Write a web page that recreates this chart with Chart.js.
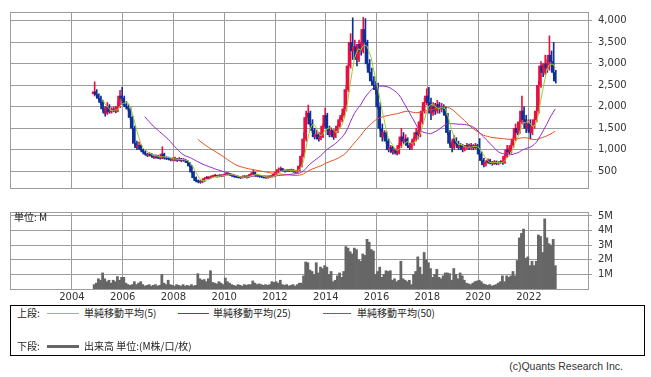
<!DOCTYPE html>
<html>
<head>
<meta charset="utf-8">
<script src="https://cdn.jsdelivr.net/npm/chart.js@4.4.0/dist/chart.umd.min.js"></script>
<style>
  body { margin: 0; background: #fff; width: 651px; height: 377px; position: relative; overflow: hidden; }
  canvas { position: absolute; left: 0; }
  #chartPrice { top: 0; }
  #chartVol { top: 200px; }
  .unit { position: absolute; left: 14px; top: 209px; font: 10px "Noto Sans CJK JP", sans-serif; color: #222; }
  .legend { position: absolute; left: 10px; top: 305px; width: 635px; height: 51px; border: 1px solid #000; box-sizing: border-box; font: 10px "Noto Sans CJK JP", sans-serif; color: #222; }
  .legend span { position: absolute; white-space: nowrap; line-height: 12px; }
  .legend .ln { position: absolute; height: 0; }
  .copy { position: absolute; right: 28px; top: 360px; font: 10.5px "Liberation Sans", sans-serif; color: #333; }
</style>
</head>
<body>
<canvas id="chartPrice" width="651" height="200"></canvas>
<canvas id="chartVol" width="651" height="105"></canvas>
<div class="unit">単位: M</div>
<div class="legend">
  <span style="left:6px;top:1px">上段:</span>
  <div class="ln" style="left:36px;top:7px;width:32px;border-top:1px solid #99cc33"></div>
  <span style="left:73px;top:1px">単純移動平均(5)</span>
  <div class="ln" style="left:167px;top:7px;width:31px;border-top:1px solid #7722cc"></div>
  <span style="left:202px;top:1px">単純移動平均(25)</span>
  <div class="ln" style="left:312px;top:7px;width:28px;border-top:1px solid #d04010"></div>
  <span style="left:346px;top:1px">単純移動平均(50)</span>
  <span style="left:6px;top:34px">下段:</span>
  <div class="ln" style="left:36px;top:39px;width:32px;border-top:3px solid #666"></div>
  <span style="left:73px;top:34px">出来高 単位:(M株/口/枚)</span>
</div>
<div class="copy">(c)Quants Research Inc.</div>
<script>
// monthly candles, Nov 2004 .. Jan 2023
const startYear = 2004;
const startMonth = 11;

const open = [
  2300, 2350,
  2280, 2200, 2100, 1950, 1850, 2000, 1880, 1900, 1950, 1900, 2000, 2250,
  2200, 2050, 2000, 1950, 1750, 1500, 1150, 1050, 1100, 1000, 950, 900,
  870, 900, 860, 820, 850, 820, 800, 900, 810, 800, 790, 770,
  780, 790, 760, 790, 750, 770, 740, 700, 620, 480, 350, 280,
  260, 250, 270, 330, 350, 340, 370, 380, 400, 380, 400, 390,
  410, 430, 440, 420, 400, 380, 370, 360, 350, 370, 380, 360,
  400, 430, 470, 420, 390, 380, 370, 360, 350, 360, 370, 380,
  430, 480, 540, 560, 520, 500, 520, 510, 530, 500, 480, 520,
  620, 850, 1250, 1750, 1850, 1600, 1450, 1300, 1350, 1250, 1300, 1550,
  1800, 1500, 1350, 1450, 1300, 1450, 1550, 1700, 1800, 1950, 2400, 2950,
  3500, 3300, 3400, 3100, 3450, 3300, 3800, 3500, 3000, 2800, 2600, 2500,
  2400, 2000, 1500, 1300, 1400, 1200, 1000, 1050, 950, 1000, 920, 1100,
  1300, 1200, 1250, 1100, 1050, 1150, 1250, 1400, 1350, 1650, 1900, 2100,
  2250, 2100, 1850, 2000, 1900, 2050, 1950, 2000, 1950, 1800, 1400, 1150,
  1050, 1250, 1150, 1050, 1100, 1000, 1050, 1100, 1050, 1100, 1050, 1100,
  1050, 900, 750, 650, 700, 750, 700, 680, 720, 680, 700, 720,
  700, 850, 1000, 950, 1100, 1250, 1500, 1400, 1650, 1900, 1700, 1500,
  1600, 1400, 1550, 1700, 1900, 2500, 2950, 2800, 3000, 2900, 3200, 3050,
  2800
];
const high = [
  2580, 2400,
  2300, 2250, 2150, 2000, 2100, 2050, 1980, 2000, 2000, 2100, 2380, 2450,
  2250, 2120, 2050, 1980, 1780, 1550, 1200, 1180, 1120, 1020, 980, 920,
  930, 910, 880, 880, 870, 840, 1070, 920, 840, 830, 810, 810,
  830, 800, 820, 800, 800, 780, 750, 710, 630, 500, 370, 300,
  280, 290, 350, 380, 370, 390, 410, 430, 410, 420, 420, 430,
  460, 470, 450, 430, 410, 390, 380, 370, 390, 400, 390, 420,
  450, 530, 480, 430, 400, 390, 380, 370, 380, 390, 400, 450,
  500, 580, 600, 570, 530, 540, 540, 550, 540, 510, 540, 650,
  900, 1400, 1900, 2040, 1900, 1700, 1500, 1450, 1400, 1380, 1600, 1970,
  1850, 1550, 1500, 1480, 1500, 1600, 1750, 1850, 2000, 2500, 3000, 3700,
  4070, 3550, 3450, 3550, 3500, 4080, 4050, 3550, 3100, 2900, 2700, 2600,
  2550, 2100, 1600, 1450, 1420, 1250, 1100, 1080, 1020, 1010, 1150, 1500,
  1400, 1350, 1280, 1150, 1200, 1300, 1500, 1450, 1700, 2000, 2200, 2420,
  2450, 2200, 2100, 2080, 2150, 2100, 2080, 2050, 2000, 1850, 1450, 1200,
  1330, 1280, 1200, 1150, 1120, 1100, 1150, 1130, 1150, 1120, 1150, 1130,
  1260, 950, 800, 720, 790, 780, 730, 750, 740, 720, 750, 740,
  900, 1100, 1050, 1150, 1300, 1600, 1550, 1700, 2250, 2000, 1800, 1700,
  1700, 1600, 1750, 2000, 2600, 3050, 3000, 3200, 3100, 3650, 3300, 3500,
  2850
];
const low = [
  2250, 2200,
  2150, 2050, 1900, 1780, 1820, 1850, 1850, 1880, 1860, 1880, 1980, 2150,
  2000, 1950, 1900, 1700, 1450, 1100, 1000, 1030, 980, 920, 880, 840,
  850, 840, 800, 800, 800, 780, 790, 780, 770, 760, 740, 740,
  740, 730, 740, 720, 730, 700, 680, 600, 460, 320, 250, 230,
  220, 230, 260, 320, 320, 330, 350, 370, 360, 370, 370, 380,
  400, 410, 400, 380, 360, 350, 340, 330, 340, 350, 340, 350,
  390, 420, 380, 370, 360, 350, 340, 330, 330, 350, 360, 370,
  420, 470, 520, 500, 480, 490, 490, 500, 480, 460, 470, 510,
  600, 820, 1200, 1600, 1550, 1400, 1250, 1250, 1200, 1230, 1280, 1520,
  1450, 1300, 1300, 1240, 1280, 1400, 1520, 1650, 1750, 1900, 2350, 2900,
  3100, 3150, 2950, 3050, 3200, 3250, 3400, 2900, 2750, 2550, 2400, 2300,
  1950, 1450, 1200, 1250, 1150, 950, 930, 900, 900, 880, 900, 1050,
  1150, 1150, 1050, 1000, 1000, 1100, 1200, 1250, 1300, 1600, 1850, 2050,
  2000, 1700, 1800, 1820, 1850, 1850, 1880, 1850, 1750, 1350, 1100, 950,
  1000, 1100, 1000, 1000, 950, 970, 1000, 1000, 1000, 1000, 1020, 1000,
  850, 700, 600, 620, 680, 670, 640, 660, 650, 650, 680, 660,
  680, 820, 900, 920, 1050, 1220, 1350, 1380, 1600, 1650, 1400, 1450,
  1250, 1350, 1500, 1650, 1850, 2450, 2700, 2750, 2800, 2850, 2950, 2750,
  2550
];
const close = [
  2350, 2280,
  2200, 2100, 1950, 1850, 2000, 1880, 1900, 1950, 1900, 2000, 2250, 2200,
  2050, 2000, 1950, 1750, 1500, 1150, 1050, 1100, 1000, 950, 900, 870,
  900, 860, 820, 850, 820, 800, 900, 810, 800, 790, 770, 780,
  790, 760, 790, 750, 770, 740, 700, 620, 480, 350, 280, 260,
  250, 270, 330, 350, 340, 370, 380, 400, 380, 400, 390, 410,
  430, 440, 420, 400, 380, 370, 360, 350, 370, 380, 360, 400,
  430, 470, 420, 390, 380, 370, 360, 350, 360, 370, 380, 430,
  480, 540, 560, 520, 500, 520, 510, 530, 500, 480, 520, 620,
  850, 1250, 1750, 1850, 1600, 1450, 1300, 1350, 1250, 1300, 1550, 1800,
  1500, 1350, 1450, 1300, 1450, 1550, 1700, 1800, 1950, 2400, 2950, 3500,
  3300, 3400, 3100, 3450, 3300, 3800, 3500, 3000, 2800, 2600, 2500, 2400,
  2000, 1500, 1300, 1400, 1200, 1000, 1050, 950, 1000, 920, 1100, 1300,
  1200, 1250, 1100, 1050, 1150, 1250, 1400, 1350, 1650, 1900, 2100, 2250,
  2100, 1850, 2000, 1900, 2050, 1950, 2000, 1950, 1800, 1400, 1150, 1050,
  1250, 1150, 1050, 1100, 1000, 1050, 1100, 1050, 1100, 1050, 1100, 1050,
  900, 750, 650, 700, 750, 700, 680, 720, 680, 700, 720, 700,
  850, 1000, 950, 1100, 1250, 1500, 1400, 1650, 1900, 1700, 1500, 1600,
  1400, 1550, 1700, 1900, 2500, 2950, 2800, 3000, 2900, 3200, 3050, 2800,
  2600
];
// volume in millions
const volume = [
  0.3, 0.4,
  0.7, 0.6, 1.1, 0.7, 0.5, 0.6, 0.4, 0.6, 0.5, 0.85, 0.6, 0.8,
  0.8, 0.4, 0.3, 0.25, 0.3, 0.5, 0.3, 0.4, 0.5, 0.3, 0.2, 0.25,
  0.3, 0.2, 0.25, 0.3, 0.2, 0.25, 1.0, 0.4, 0.3, 0.6, 0.3, 0.25,
  0.2, 0.3, 0.25, 0.2, 0.3, 0.2, 0.25, 0.2, 0.3, 0.2, 0.25, 1.05,
  0.7, 0.6, 0.65, 0.5, 0.7, 1.25, 0.45, 0.4, 0.35, 0.5, 0.4, 0.3,
  0.75, 0.5, 0.4, 0.3, 0.25, 0.2, 0.3, 0.25, 0.2, 0.3, 0.25, 0.3,
  0.3, 0.55, 0.4, 0.3, 0.35, 0.3, 0.25, 0.3, 0.25, 0.3, 0.5, 0.45,
  0.5, 0.4, 0.6, 0.3, 0.25, 0.3, 0.2, 0.25, 0.3, 0.2, 0.3, 0.4,
  0.4, 0.9, 1.85, 1.8, 1.3, 1.2, 1.0, 1.8, 1.1, 1.5, 1.4, 1.6,
  1.5, 1.0, 1.2, 0.5, 0.6, 0.9, 1.1, 0.8, 1.2, 2.9, 2.8, 2.55,
  2.4, 2.8, 2.7, 2.0, 1.9, 2.4, 2.3, 3.4, 3.2, 2.7, 2.6, 1.0,
  1.2, 1.5, 0.8, 1.0, 1.25, 1.2, 1.25, 0.6, 0.7, 0.5, 0.6, 1.9,
  0.7, 0.6, 0.5, 0.6, 0.3, 1.0, 1.2, 2.2, 1.5, 1.0, 2.5, 2.0,
  1.8, 1.4, 0.8, 1.0, 1.35, 0.8, 0.7, 0.9, 1.1, 1.1, 1.05, 0.6,
  1.4, 1.0, 0.7, 1.1, 0.9, 0.6, 0.4, 0.35, 0.3, 0.4, 0.5, 0.55,
  0.6, 0.5, 0.35, 0.3, 0.25, 0.3, 0.2, 0.25, 0.3, 0.4, 0.5, 0.9,
  0.5, 0.9, 0.8, 0.9, 1.2, 0.9, 1.95, 3.5, 3.8, 4.1, 2.1, 2.2,
  1.6, 1.9, 1.6, 1.9, 3.7, 3.6, 2.5, 4.8, 3.5, 3.1, 3.0, 3.4,
  1.6
];

const priceTicks = [500, 1000, 1500, 2000, 2500, 3000, 3500, 4000];
const volTicks = [1, 2, 3, 4, 5];
const yearTicks = [2004, 2006, 2008, 2010, 2012, 2014, 2016, 2018, 2020, 2022];

const upColor = 'rgb(232,16,64)';
const downColor = 'rgb(16,48,150)';
const gridColor = '#9c9c9c';
const xMin = 2001.56, xMax = 2024.33;

const xs = close.map((_, i) => startYear + (startMonth - 1 + i + 0.5) / 12);
const colors = close.map((c, i) => c >= open[i] ? upColor : downColor);

function sma(n) {
  return close.map((_, i) => {
    if (i < n - 1) return { x: xs[i], y: null };
    let s = 0;
    for (let k = i - n + 1; k <= i; k++) s += close[k];
    return { x: xs[i], y: s / n };
  });
}

const frame = {
  id: 'frame',
  afterDraw(chart) {
    const a = chart.chartArea, ctx = chart.ctx;
    ctx.save();
    ctx.strokeStyle = gridColor;
    ctx.lineWidth = 1;
    ctx.strokeRect(Math.round(a.left) + 0.5, Math.round(a.top) + 0.5, Math.round(a.right - a.left), Math.round(a.bottom - a.top));
    ctx.restore();
  }
};

const tickFont = { family: 'DejaVu Sans', size: 10 };

function xScale(showLabels) {
  return {
    type: 'linear', min: xMin, max: xMax, offset: false,
    afterBuildTicks: s => { s.ticks = yearTicks.map(v => ({ value: v })); },
    afterFit: s => { s.height = showLabels ? 16 : 0; },
    grid: { color: gridColor, drawTicks: false, offset: false },
    border: { color: gridColor },
    ticks: { display: showLabels, padding: 2, color: '#333', font: tickFont, maxRotation: 0, callback: v => String(v) }
  };
}

const lineDs = (label, data, color) => ({
  type: 'line', label, data, borderColor: color, borderWidth: 1, pointRadius: 0, order: 0, spanGaps: false
});

new Chart(document.getElementById('chartPrice'), {
  type: 'bar',
  data: {
    datasets: [
      lineDs('MA5', sma(5), 'rgb(154,205,50)'),
      lineDs('MA25', sma(25), 'rgb(150,40,200)'),
      lineDs('MA50', sma(50), 'rgb(225,80,30)'),
      {
        label: 'body', data: xs.map((x, i) => ({ x, y: [open[i], close[i]] })),
        backgroundColor: colors, barThickness: 2, minBarLength: 1, order: 1
      },
      {
        label: 'wick', data: xs.map((x, i) => ({ x, y: [low[i], high[i]] })),
        backgroundColor: colors, barThickness: 1, order: 2
      }
    ]
  },
  options: {
    responsive: false, animation: false, devicePixelRatio: 1,
    layout: { padding: { left: 10, top: 10, right: 0, bottom: 1 } },
    plugins: { legend: { display: false }, tooltip: { enabled: false } },
    scales: {
      x: xScale(false),
      y: {
        position: 'right', min: 110, max: 4205,
        afterBuildTicks: s => { s.ticks = priceTicks.map(v => ({ value: v })); },
        afterFit: s => { s.width = 63; },
        grid: { color: gridColor, tickLength: 4 },
        border: { color: gridColor },
        ticks: { padding: 6, color: '#333', font: tickFont, callback: v => v.toLocaleString('en-US') }
      }
    }
  },
  plugins: [frame]
});

new Chart(document.getElementById('chartVol'), {
  type: 'bar',
  data: {
    datasets: [{
      label: 'volume', data: xs.map((x, i) => ({ x, y: volume[i] })),
      backgroundColor: '#666666', barPercentage: 1, categoryPercentage: 1
    }]
  },
  options: {
    responsive: false, animation: false, devicePixelRatio: 1,
    layout: { padding: { left: 10, top: 10, right: 0, bottom: 0 } },
    plugins: { legend: { display: false }, tooltip: { enabled: false } },
    scales: {
      x: xScale(true),
      y: {
        position: 'right', min: 0, max: 5.27,
        afterBuildTicks: s => { s.ticks = volTicks.map(v => ({ value: v })); },
        afterFit: s => { s.width = 63; },
        grid: { color: gridColor, tickLength: 4 },
        border: { color: gridColor },
        ticks: { padding: 6, color: '#333', font: tickFont, callback: v => v + 'M' }
      }
    }
  },
  plugins: [frame]
});
</script>
</body>
</html>
